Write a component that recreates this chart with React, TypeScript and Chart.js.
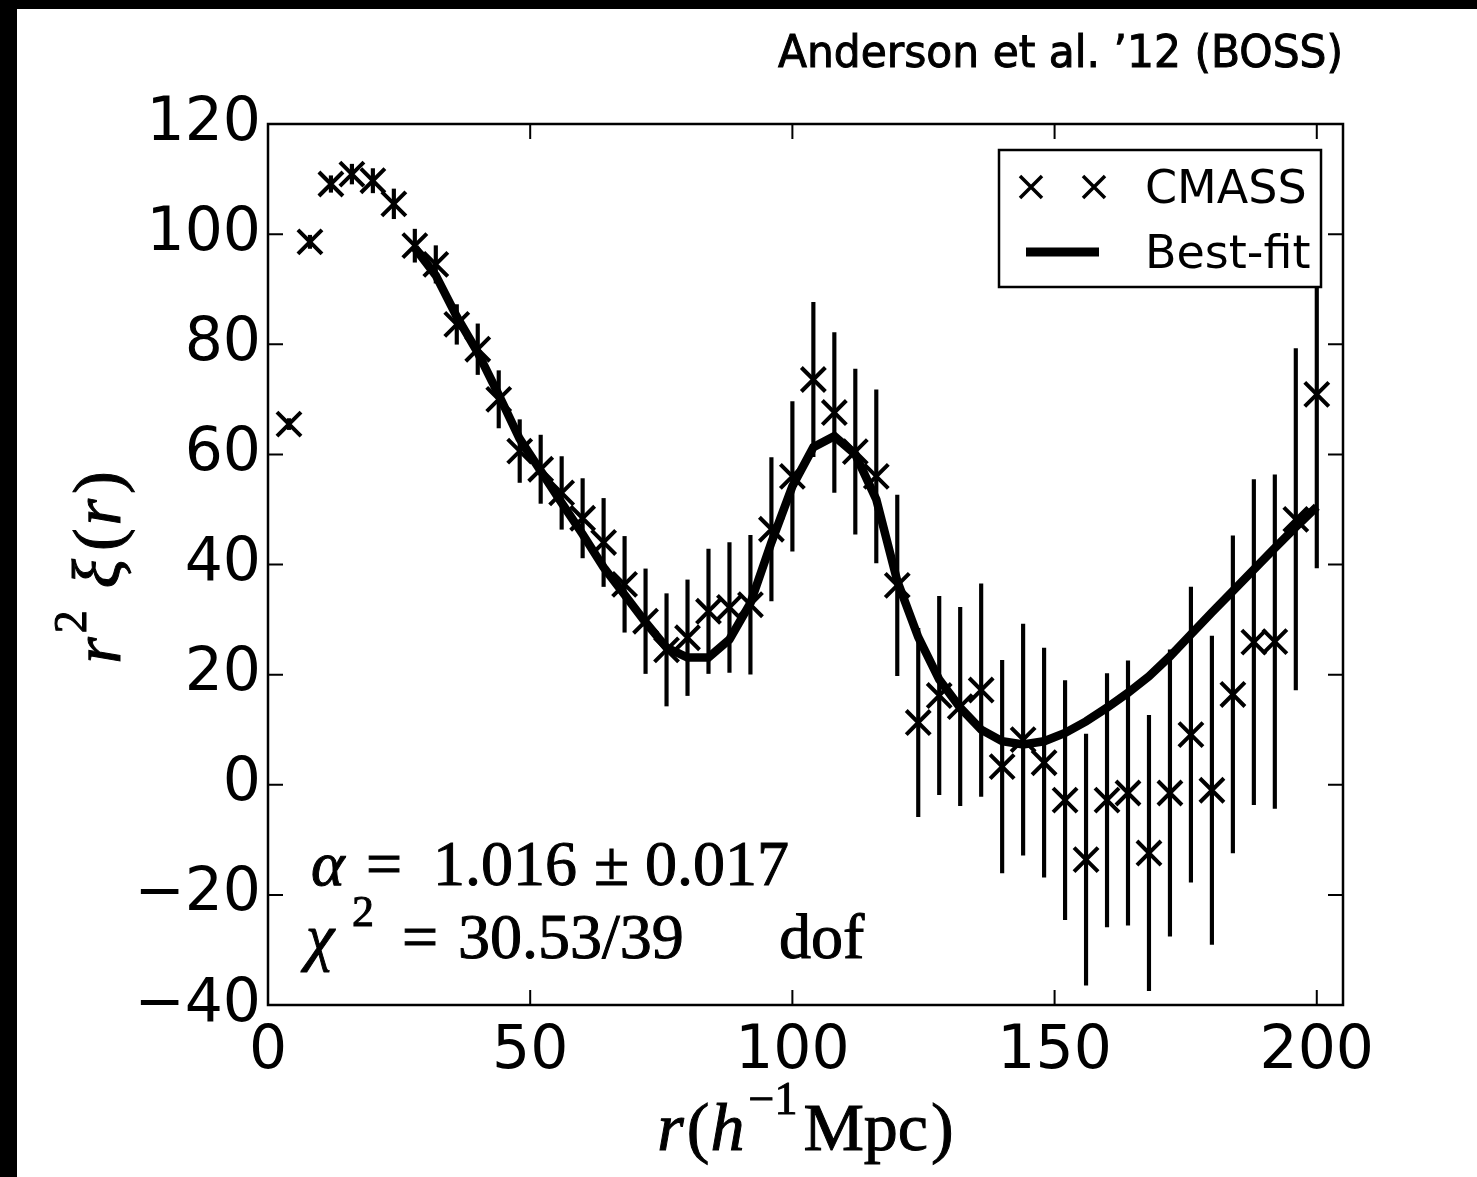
import React, { useEffect, useRef } from 'react';
import { Chart, registerables } from 'chart.js';

Chart.register(...registerables);

// ---- data ----
const rValues = [4, 8, 12, 16, 20, 24, 28, 32, 36, 40, 44, 48, 52, 56, 60, 64, 68, 72, 76, 80, 84, 88, 92, 96, 100,
  104, 108, 112, 116, 120, 124, 128, 132, 136, 140, 144, 148, 152, 156, 160, 164, 168, 172, 176, 180, 184, 188, 192, 196, 200];
const xiValues = [65.5, 98.6, 109.1, 110.9, 109.7, 105.5, 97.9, 94.5, 83.6, 79.1, 70.0, 60.6, 57.3, 53.0, 48.4, 44.0, 36.4, 29.7, 24.5, 26.7, 31.5, 32.2, 32.7, 46.4, 56.0,
  73.6, 67.6, 60.5, 56.0, 36.2, 11.3, 16.2, 14.2, 17.2, 3.3, 8.2, 4.0, -2.8, -13.6, -2.8, -1.5, -12.4, -1.5, 9.1, -1.0, 16.4, 25.9, 26.0, 48.2, 70.9];
const xiErrors = [1.0, 1.2, 1.5, 1.8, 2.2, 2.7, 3.0, 3.4, 3.6, 4.6, 5.2, 5.7, 6.2, 6.6, 7.2, 8.0, 8.7, 9.5, 10.2, 10.5, 11.3, 11.8, 12.6, 13.0, 13.6,
  14.0, 14.5, 15.0, 15.7, 16.4, 17.1, 18.0, 18.0, 19.3, 19.3, 21.0, 20.8, 21.7, 22.8, 23.0, 24.0, 25.0, 26.0, 26.8, 28.0, 28.8, 29.5, 30.3, 31.0, 31.5];
const fitR = [28, 32, 36, 40, 44, 48, 52, 56, 60, 64, 68, 72, 76, 80, 84, 88, 92, 96, 100, 104, 108, 112, 116, 120,
  124, 128, 132, 136, 140, 144, 148, 152, 156, 160, 164, 168, 172, 176, 180, 184, 188, 192, 196, 200];
const fitValues = [97.5, 92.5, 85.0, 78.5, 70.8, 62.8, 57.0, 51.2, 45.5, 39.5, 34.5, 29.5, 24.9, 23.1, 23.1, 26.4, 33.0, 44.0, 54.2, 61.3, 63.3, 60.0, 51.8, 37.0,
  26.8, 19.1, 14.0, 10.0, 7.9, 7.3, 7.9, 9.4, 11.5, 14.0, 16.7, 19.7, 23.3, 27.3, 31.3, 35.2, 39.1, 43.0, 46.8, 50.5];
const xTicks = [0, 50, 100, 150, 200];
const yTicks = [-40, -20, 0, 20, 40, 60, 80, 100, 120];

const titleText = 'Anderson et al. \u201912 (BOSS)';
const legendLabels = ['CMASS', 'Best-fit'];

const SERIF = '"Liberation Serif", "DejaVu Serif", serif';
const SANS = '"DejaVu Sans", sans-serif';

type Run = { t: string; f: string; x?: number; dy?: number; gap?: number };

function fillBold(ctx: CanvasRenderingContext2D, t: string, x: number, y: number) {
  ctx.fillText(t, x, y);
  ctx.strokeText(t, x, y);
}

function drawRunsAbs(ctx: CanvasRenderingContext2D, runs: Run[], y: number) {
  for (const r of runs) {
    ctx.font = r.f;
    fillBold(ctx, r.t, r.x as number, y + (r.dy || 0));
  }
}

function runsWidth(ctx: CanvasRenderingContext2D, runs: Run[]) {
  let w = 0;
  for (const r of runs) {
    ctx.font = r.f;
    w += ctx.measureText(r.t).width + (r.gap || 0);
  }
  return w;
}

function drawRunsRel(ctx: CanvasRenderingContext2D, runs: Run[], x: number, y: number) {
  for (const r of runs) {
    ctx.font = r.f;
    fillBold(ctx, r.t, x, y + (r.dy || 0));
    x += ctx.measureText(r.t).width + (r.gap || 0);
  }
}

const bgPlugin = {
  id: 'bg',
  beforeDraw(chart: any) {
    const { ctx, width, height } = chart;
    ctx.save();
    ctx.fillStyle = '#fff';
    ctx.fillRect(0, 0, width, height);
    ctx.fillStyle = '#000';
    ctx.fillRect(0, 0, 17, height);
    ctx.fillRect(0, 0, width, 9);
    ctx.restore();
  },
};

const decorPlugin = {
  id: 'decor',
  afterDraw(chart: any) {
    const { ctx, chartArea: a } = chart;
    const xs = chart.scales.x;
    const ys = chart.scales.y;
    ctx.save();
    ctx.strokeStyle = '#000';
    ctx.fillStyle = '#000';
    // frame
    ctx.lineWidth = 2.5;
    ctx.strokeRect(a.left, a.top, a.right - a.left, a.bottom - a.top);
    // inward ticks
    ctx.lineWidth = 2;
    const tl = 15;
    ctx.beginPath();
    for (const v of xTicks) {
      const px = xs.getPixelForValue(v);
      ctx.moveTo(px, a.bottom); ctx.lineTo(px, a.bottom - tl);
      ctx.moveTo(px, a.top); ctx.lineTo(px, a.top + tl);
    }
    for (const v of yTicks) {
      const py = ys.getPixelForValue(v);
      ctx.moveTo(a.left, py); ctx.lineTo(a.left + tl, py);
      ctx.moveTo(a.right, py); ctx.lineTo(a.right - tl, py);
    }
    ctx.stroke();

    // legend
    const lx = a.right - 344, ly = a.top + 26, lw = 322, lh = 137;
    ctx.fillStyle = '#fff';
    ctx.fillRect(lx, ly, lw, lh);
    ctx.lineWidth = 2.5;
    ctx.strokeStyle = '#000';
    ctx.strokeRect(lx, ly, lw, lh);
    ctx.fillStyle = '#000';
    ctx.lineWidth = 3.5;
    const cy = ly + 37;
    for (const cx of [lx + 32, lx + 95]) {
      const h = 11;
      ctx.beginPath();
      ctx.moveTo(cx - h, cy - h); ctx.lineTo(cx + h, cy + h);
      ctx.moveTo(cx - h, cy + h); ctx.lineTo(cx + h, cy - h);
      ctx.stroke();
    }
    ctx.lineWidth = 9;
    ctx.lineCap = 'butt';
    ctx.beginPath();
    ctx.moveTo(lx + 27, ly + 102); ctx.lineTo(lx + 100, ly + 102);
    ctx.stroke();
    ctx.font = '46px ' + SANS;
    ctx.textAlign = 'left';
    ctx.textBaseline = 'alphabetic';
    ctx.fillText(legendLabels[0], lx + 146, ly + 53);
    ctx.fillText(legendLabels[1], lx + 146, ly + 118);

    // title (top right)
    ctx.save();
    ctx.font = '44px ' + SANS;
    const tw = ctx.measureText(titleText).width;
    ctx.translate(a.right, 67);
    ctx.scale(565 / tw, 1);
    ctx.textAlign = 'right';
    ctx.lineWidth = 1;
    fillBold(ctx, titleText, 0, 0);
    ctx.restore();

    // annotations
    ctx.textAlign = 'left';
    ctx.lineWidth = 1;
    const F = '64px ' + SERIF;
    const FI = 'italic 64px ' + SERIF;
    const FS = '44px ' + SERIF;
    drawRunsAbs(ctx, [
      { t: '\u03b1', f: FI, x: 311 },
      { t: '=', f: F, x: 366 },
      { t: '1.016', f: F, x: 433 },
      { t: '\u00b1', f: F, x: 594 },
      { t: '0.017', f: F, x: 645 },
    ], 885);
    drawRunsAbs(ctx, [
      { t: '\u03c7', f: FI, x: 306 },
      { t: '2', f: FS, x: 352, dy: -32 },
      { t: '=', f: F, x: 402 },
      { t: '30.53/39', f: F, x: 458 },
      { t: 'dof', f: F, x: 779 },
    ], 958);

    // x axis title
    const XF = '68px ' + SERIF;
    const XFI = 'italic 68px ' + SERIF;
    const xRuns: Run[] = [
      { t: 'r', f: XFI, gap: 3 },
      { t: '(', f: XF, gap: 1 },
      { t: 'h', f: XFI, gap: 4 },
      { t: '\u22121', f: '46px ' + SERIF, dy: -36, gap: 6 },
      { t: 'Mpc', f: XF, gap: 3 },
      { t: ')', f: XF },
    ];
    const xw = runsWidth(ctx, xRuns);
    drawRunsRel(ctx, xRuns, (a.left + a.right) / 2 - xw / 2, 1150);

    // y axis title (rotated)
    const yRuns: Run[] = [
      { t: 'r', f: XFI, gap: 4 },
      { t: '2', f: '46px ' + SERIF, dy: -34, gap: 22 },
      { t: '\u03be', f: XFI, gap: 8 },
      { t: '(', f: XF, gap: 3 },
      { t: 'r', f: XFI, gap: 5 },
      { t: ')', f: XF },
    ];
    const yw = runsWidth(ctx, yRuns);
    ctx.save();
    ctx.translate(120, (a.top + a.bottom) / 2 + 3);
    ctx.rotate(-Math.PI / 2);
    drawRunsRel(ctx, yRuns, -yw / 2, 0);
    ctx.restore();

    ctx.restore();
  },
};

export default function App() {
  const ref = useRef<HTMLCanvasElement | null>(null);
  useEffect(() => {
    const canvas = ref.current;
    if (!canvas) return;
    const tickFont = { family: 'DejaVu Sans', size: 60 };
    const chart = new Chart(canvas, {
      type: 'scatter',
      data: {
        datasets: [
          {
            type: 'bar',
            label: 'errors',
            data: rValues.map((r, i) => ({ x: r, y: [xiValues[i] - xiErrors[i], xiValues[i] + xiErrors[i]] })),
            backgroundColor: '#000',
            borderWidth: 0,
            barThickness: 3.5,
            grouped: false,
            order: 3,
          } as any,
          {
            type: 'line',
            label: legendLabels[1],
            data: fitR.map((r, i) => ({ x: r, y: fitValues[i] })),
            borderColor: '#000',
            borderWidth: 8.5,
            pointRadius: 0,
            fill: false,
            tension: 0,
            order: 2,
          } as any,
          {
            type: 'scatter',
            label: legendLabels[0],
            data: rValues.map((r, i) => ({ x: r, y: xiValues[i] })),
            pointStyle: 'crossRot',
            pointRadius: 17,
            pointHoverRadius: 17,
            borderColor: '#000',
            backgroundColor: '#000',
            borderWidth: 4,
            pointBorderWidth: 4,
            order: 1,
          } as any,
        ],
      },
      options: {
        animation: false,
        responsive: false,
        devicePixelRatio: 1,
        events: [],
        layout: { padding: { left: 0, right: 134, top: 124, bottom: 0 } },
        plugins: { legend: { display: false }, tooltip: { enabled: false }, title: { display: false } },
        scales: {
          x: {
            type: 'linear',
            min: 0,
            max: 205,
            offset: false,
            grid: { display: false, drawTicks: false },
            border: { display: false },
            ticks: { stepSize: 50, font: tickFont, color: '#000', padding: 11, maxRotation: 0, autoSkip: false },
            afterBuildTicks: (s: any) => { s.ticks = xTicks.map((v) => ({ value: v })); },
            afterFit: (s: any) => { s.height = 172; },
          },
          y: {
            type: 'linear',
            min: -40,
            max: 120,
            grid: { display: false, drawTicks: false },
            border: { display: false },
            ticks: {
              stepSize: 20,
              font: tickFont,
              color: '#000',
              padding: 7,
              autoSkip: false,
              callback: (v: any) => String(v).replace('-', '\u2212'),
            },
            afterBuildTicks: (s: any) => { s.ticks = yTicks.map((v) => ({ value: v })); },
            afterFit: (s: any) => { s.width = 268; },
          },
        },
      } as any,
      plugins: [bgPlugin, decorPlugin],
    });
    return () => chart.destroy();
  }, []);
  return (
    <div style={{ position: 'absolute', left: 0, top: 0, width: 1477, height: 1177 }}>
      <canvas ref={ref} width={1477} height={1177} style={{ display: 'block', width: 1477, height: 1177 }} />
    </div>
  );
}
